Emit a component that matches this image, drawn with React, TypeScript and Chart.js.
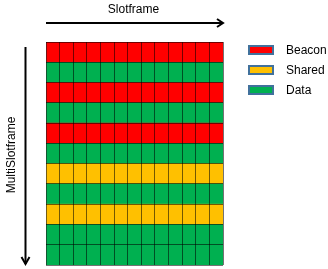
import React, { useEffect, useRef } from "react";
import { Chart, registerables } from "chart.js";

Chart.register(...registerables);

// Rows of the multislotframe (top to bottom) and their cell type
const rowLabels = ["1", "2", "3", "4", "5", "6", "7", "8", "9", "10", "11"];
const rowTypes = ["Beacon", "Data", "Beacon", "Data", "Beacon", "Data", "Shared", "Data", "Shared", "Data", "Data"];
// Slots in one slotframe (columns)
const slotLabels = ["0", "1", "2", "3", "4", "5", "6", "7", "8", "9", "10", "11", "12"];
// Legend categories
const legendLabels = ["Beacon", "Shared", "Data"];
const legendColors = ["#FF0000", "#FFC000", "#00B050"];
const xTitle = "Slotframe";
const yTitle = "MultiSlotframe";

const colorOf = (t: string) => legendColors[legendLabels.indexOf(t)];
const FONT = "'Liberation Sans', Arial, sans-serif";

const decor = {
  id: "decor",
  afterDraw(chart: any) {
    const { ctx, chartArea } = chart;
    const { left, right, top, bottom } = chartArea;
    ctx.save();
    ctx.fillStyle = "#000";
    ctx.strokeStyle = "#000";
    // top title + arrow
    ctx.font = `12px ${FONT}`;
    ctx.textAlign = "center";
    ctx.textBaseline = "middle";
    ctx.fillText(xTitle, (left + right) / 2 - 1, 10);
    const ay = 23;
    ctx.lineWidth = 2;
    ctx.beginPath();
    ctx.moveTo(left, ay);
    ctx.lineTo(right, ay);
    ctx.stroke();
    ctx.beginPath();
    ctx.moveTo(right - 6, ay - 4);
    ctx.lineTo(right, ay);
    ctx.lineTo(right - 6, ay + 4);
    ctx.stroke();
    // left arrow + title
    const ax = 25.5;
    ctx.beginPath();
    ctx.moveTo(ax, top + 5);
    ctx.lineTo(ax, bottom - 1);
    ctx.stroke();
    ctx.beginPath();
    ctx.moveTo(ax - 4, bottom - 8);
    ctx.lineTo(ax, bottom - 1);
    ctx.lineTo(ax + 4, bottom - 8);
    ctx.stroke();
    ctx.save();
    ctx.translate(12, 155);
    ctx.rotate(-Math.PI / 2);
    ctx.fillText(yTitle, 0, 0);
    ctx.restore();
    // legend
    ctx.textAlign = "left";
    legendLabels.forEach((lab, i) => {
      const y = 46 + i * 20;
      ctx.fillStyle = legendColors[i];
      ctx.fillRect(249, y, 24, 8);
      ctx.strokeStyle = "#41719C";
      ctx.lineWidth = 2;
      ctx.strokeRect(249, y, 24, 8);
      ctx.fillStyle = "#000";
      ctx.fillText(lab, 286, y + 4.5);
    });
    ctx.restore();
  },
};

export default function App() {
  const ref = useRef<HTMLCanvasElement>(null);
  useEffect(() => {
    const chart = new Chart(ref.current!, {
      type: "bar",
      data: {
        labels: rowLabels,
        datasets: slotLabels.map((s) => ({
          label: s,
          data: rowLabels.map(() => 1),
          backgroundColor: rowTypes.map(colorOf),
          borderWidth: 0,
          barPercentage: 1,
          categoryPercentage: 1,
        })),
      },
      options: {
        indexAxis: "y",
        animation: false,
        responsive: false,
        events: [],
        layout: { padding: { left: 46, top: 42, right: 105, bottom: 4 } },
        plugins: { legend: { display: false }, tooltip: { enabled: false }, title: { display: false } },
        scales: {
          x: {
            type: "linear",
            stacked: true,
            min: 0,
            max: slotLabels.length,
            ticks: { display: false, stepSize: 1 },
            grid: { z: 1, color: "rgba(0,0,0,0.55)", lineWidth: 1, drawTicks: false, tickLength: 0 },
            border: { display: false },
            afterFit: (s: any) => { s.height = 0; },
          },
          y: {
            stacked: true,
            ticks: { display: false },
            grid: { z: 1, color: "rgba(0,0,0,0.55)", lineWidth: 1, drawTicks: false, tickLength: 0, offset: true },
            border: { display: false },
            afterFit: (s: any) => { s.width = 0; },
          },
        },
      },
      plugins: [decor],
    } as any);
    return () => chart.destroy();
  }, []);
  return (
    <div style={{ position: "absolute", left: 0, top: 0, width: 328, height: 269, background: "#fff" }}>
      <canvas ref={ref} width={328} height={269} />
    </div>
  );
}
